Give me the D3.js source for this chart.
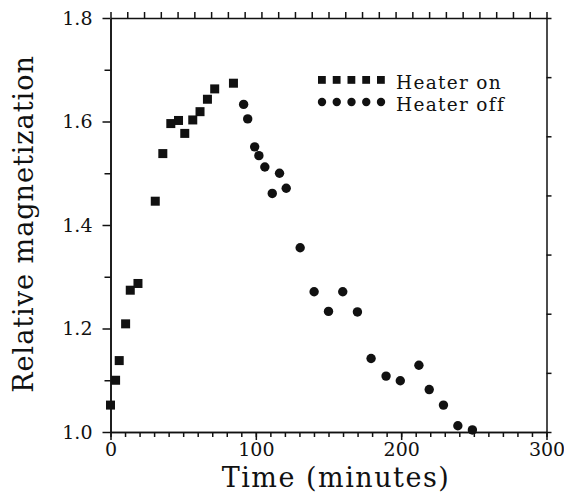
<!DOCTYPE html>
<html>
<head>
<meta charset="utf-8">
<script src="https://cdn.jsdelivr.net/npm/d3@7"></script>
<style>
  body { margin: 0; background: #fff; }
  svg text { font-family: "DejaVu Serif", serif; fill: #111; }
  .axis path, .axis line { stroke: #111; stroke-width: 1.5; }
</style>
</head>
<body>
<svg width="564" height="499"></svg>
<script>
// heater on (squares)
var onTime = [0, 3.5, 6, 10.4, 13.6, 18.9, 30.8, 36, 41.5, 46.8, 51.1, 56.6, 61.6, 66.7, 71.7, 84.6];
var onMag = [1.052, 1.100, 1.138, 1.209, 1.274, 1.287, 1.446, 1.538, 1.596, 1.602, 1.577, 1.603, 1.619, 1.643, 1.663, 1.674];
// heater off (circles)
var offTime = [91.6, 94.4, 99.2, 102.1, 106.2, 111.3, 116.3, 120.9, 130.5, 140.1, 150, 159.8, 169.9, 179.3, 189.6, 199.4, 212.2, 219.3, 229.1, 239, 249];
var offMag = [1.633, 1.605, 1.551, 1.534, 1.512, 1.461, 1.500, 1.471, 1.356, 1.271, 1.233, 1.271, 1.232, 1.142, 1.108, 1.099, 1.129, 1.082, 1.052, 1.012, 1.004];

var xMajor = [0, 100, 200, 300];
var yMajor = [1.0, 1.2, 1.4, 1.6, 1.8];
var legendLabels = ["Heater on", "Heater off"];
var topDivisions = 26;
var rightDivisions = 7;

var svg = d3.select("svg");
// plot box (window.top is taken, so prefixed names)
var pLeft = 110.5, pRight = 546.5, pTop = 18, pBottom = 432;

var x = d3.scaleLinear().domain([0, 300]).range([pLeft, pRight]);
var y = d3.scaleLinear().domain([1.0, 1.8]).range([pBottom, pTop]);
var xTop = d3.scaleLinear().domain([0, topDivisions]).range([pLeft, pRight]);
var yRight = d3.scaleLinear().domain([0, rightDivisions]).range([pBottom, pTop]);

// bottom axis: minor then major
svg.append("g").attr("class", "axis").attr("transform", "translate(0," + pBottom + ")")
    .call(d3.axisBottom(x).tickValues(d3.range(0, 301, 10)).tickSize(5).tickSizeOuter(0).tickFormat(""));
svg.append("g").attr("class", "axis").attr("transform", "translate(0," + pBottom + ")")
    .call(d3.axisBottom(x).tickValues(xMajor).tickSize(8).tickSizeOuter(0).tickPadding(3).tickFormat(d3.format("d")))
    .call(function (g) { g.selectAll("text").style("font-size", "19px"); });

// left axis
svg.append("g").attr("class", "axis").attr("transform", "translate(" + pLeft + ",0)")
    .call(d3.axisLeft(y).tickValues([1.1, 1.3, 1.5, 1.7]).tickSize(6).tickSizeOuter(0).tickFormat(""));
svg.append("g").attr("class", "axis").attr("transform", "translate(" + pLeft + ",0)")
    .call(d3.axisLeft(y).tickValues(yMajor).tickSize(8).tickSizeOuter(0).tickPadding(10).tickFormat(d3.format(".1f")))
    .call(function (g) { g.selectAll("text").style("font-size", "19px"); });

// top and right frame with their own ticks
svg.append("g").attr("class", "axis").attr("transform", "translate(0," + pTop + ")")
    .call(d3.axisTop(xTop).ticks(topDivisions).tickSize(6).tickSizeOuter(0).tickFormat(""));
svg.append("g").attr("class", "axis").attr("transform", "translate(" + pRight + ",0)")
    .call(d3.axisRight(yRight).ticks(rightDivisions).tickSize(5).tickSizeOuter(0).tickFormat(""));

svg.selectAll(".axis text").attr("fill", "#111");

// points
var sq = 9;
svg.append("g").selectAll("rect")
    .data(d3.zip(onTime, onMag))
    .enter()
    .append("rect")
    .attr("x", function (d) { return x(d[0]) - sq / 2; })
    .attr("y", function (d) { return y(d[1]) - sq / 2; })
    .attr("width", sq)
    .attr("height", sq)
    .attr("fill", "#111");

svg.append("g").selectAll("circle")
    .data(d3.zip(offTime, offMag))
    .enter()
    .append("circle")
    .attr("cx", function (d) { return x(d[0]); })
    .attr("cy", function (d) { return y(d[1]); })
    .attr("r", 4.7)
    .attr("fill", "#111");

// legend
var lg = svg.append("g");
var marks = d3.range(5);
lg.selectAll("rect")
    .data(marks)
    .enter()
    .append("rect")
    .attr("x", function (d, i) { return 318 + i * 14.75; })
    .attr("y", 76)
    .attr("width", 7.8)
    .attr("height", 7.8)
    .attr("fill", "#111");
lg.selectAll("circle")
    .data(marks)
    .enter()
    .append("circle")
    .attr("cx", function (d, i) { return 322 + i * 14.75; })
    .attr("cy", 102)
    .attr("r", 4.2)
    .attr("fill", "#111");
lg.selectAll("text")
    .data(legendLabels)
    .enter()
    .append("text")
    .attr("x", 396)
    .attr("y", function (d, i) { return 89 + i * 22; })
    .style("font-size", "18.5px")
    .style("letter-spacing", "1.3px")
    .text(function (d) { return d; });

// axis titles
svg.append("text")
    .attr("x", 336)
    .attr("y", 487)
    .attr("text-anchor", "middle")
    .style("font-size", "27px")
    .style("letter-spacing", "1.5px")
    .text("Time (minutes)");

svg.append("text")
    .attr("transform", "translate(33,224) rotate(-90)")
    .attr("text-anchor", "middle")
    .style("font-size", "27px")
    .style("letter-spacing", "1px")
    .text("Relative magnetization");
</script>
</body>
</html>
